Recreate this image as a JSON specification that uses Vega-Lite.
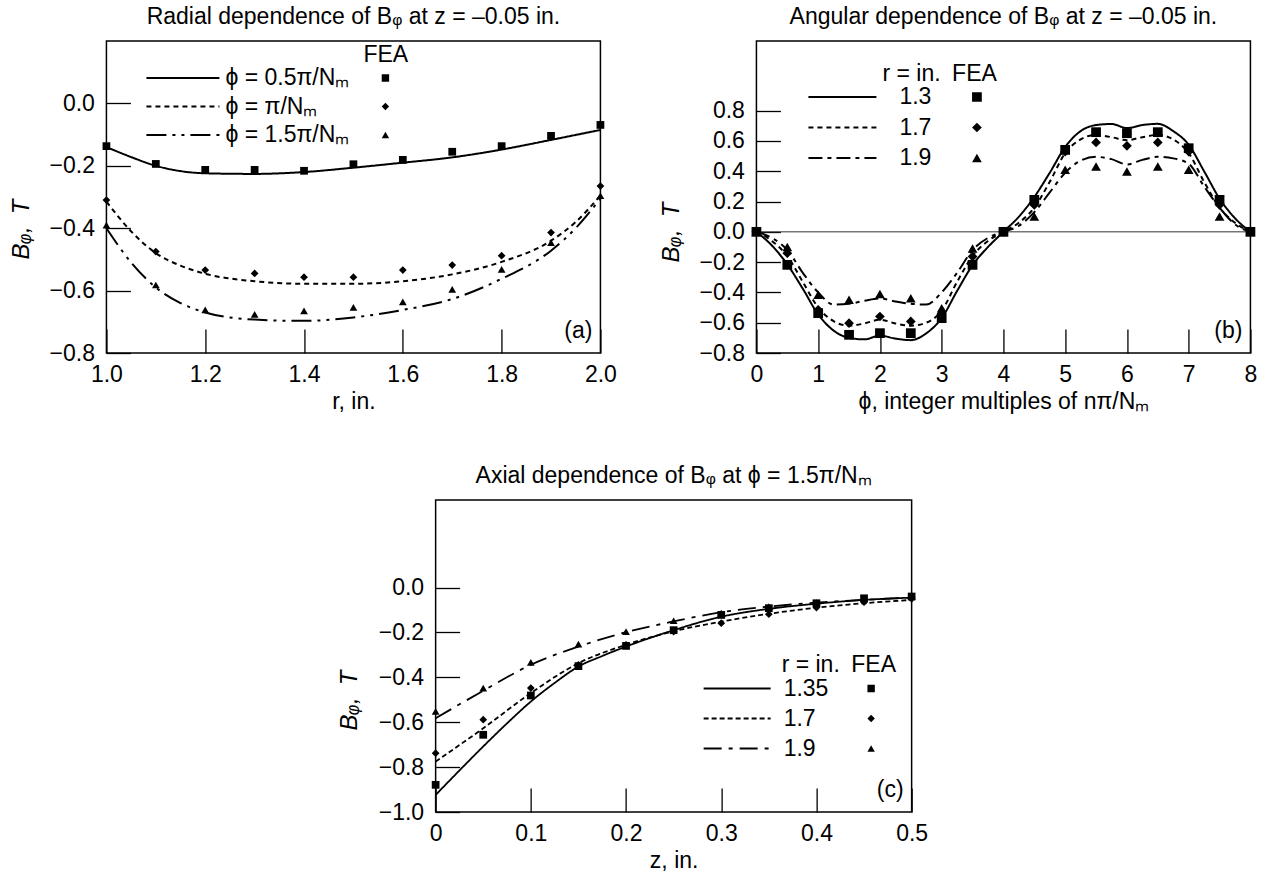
{
  "$schema": "https://vega.github.io/schema/vega-lite/v6.json",
  "background": "white",
  "padding": {"left": 8, "top": 5, "right": 5, "bottom": 5},
  "config": {
    "font": "Liberation Sans",
    "view": {"stroke": "black", "strokeWidth": 1.5},
    "axis": {
      "domain": false, "grid": false, "ticks": true, "tickSize": -24, "tickColor": "black", "tickWidth": 1.3,
      "labelColor": "black", "labelFontSize": 23, "labelFont": "Liberation Sans", "labelFlush": false, "labelOverlap": false,
      "titleColor": "black", "titleFontSize": 23, "titleFontWeight": "normal", "titleFont": "Liberation Sans"
    },
    "axisX": {"labelPadding": 34, "titleY": 55, "titleBaseline": "alphabetic"},
    "axisY": {"labelPadding": 36, "titleX": -78, "titleBaseline": "alphabetic", "titleFontStyle": "italic", "titleFontSize": 24},
    "legend": {
      "orient": "none", "padding": 0, "labelFontSize": 23, "labelFont": "Liberation Sans", "labelColor": "black",
      "titleFontSize": 23, "titleFontWeight": "normal", "titleColor": "black", "titleFont": "Liberation Sans", "titlePadding": 0
    },
    "title": {"fontSize": 23, "fontWeight": "normal", "color": "black", "font": "Liberation Sans", "offset": 12, "frame": "group"},
    "text": {"font": "Liberation Sans", "fontSize": 23, "color": "black"}
  },
  "datasets": {
    "a_lines": [
      {"x": 1.0, "y": -0.14, "curve": "ϕ = 0.5π/Nₘ"}, {"x": 1.05, "y": -0.172, "curve": "ϕ = 0.5π/Nₘ"}, {"x": 1.1, "y": -0.2, "curve": "ϕ = 0.5π/Nₘ"},
      {"x": 1.15, "y": -0.217, "curve": "ϕ = 0.5π/Nₘ"}, {"x": 1.2, "y": -0.224, "curve": "ϕ = 0.5π/Nₘ"}, {"x": 1.3, "y": -0.226, "curve": "ϕ = 0.5π/Nₘ"},
      {"x": 1.4, "y": -0.22, "curve": "ϕ = 0.5π/Nₘ"}, {"x": 1.5, "y": -0.206, "curve": "ϕ = 0.5π/Nₘ"}, {"x": 1.6, "y": -0.19, "curve": "ϕ = 0.5π/Nₘ"},
      {"x": 1.7, "y": -0.173, "curve": "ϕ = 0.5π/Nₘ"}, {"x": 1.8, "y": -0.148, "curve": "ϕ = 0.5π/Nₘ"}, {"x": 1.9, "y": -0.117, "curve": "ϕ = 0.5π/Nₘ"},
      {"x": 2.0, "y": -0.085, "curve": "ϕ = 0.5π/Nₘ"},
      {"x": 1.0, "y": -0.315, "curve": "ϕ = π/Nₘ"}, {"x": 1.05, "y": -0.41, "curve": "ϕ = π/Nₘ"}, {"x": 1.1, "y": -0.48, "curve": "ϕ = π/Nₘ"},
      {"x": 1.15, "y": -0.52, "curve": "ϕ = π/Nₘ"}, {"x": 1.2, "y": -0.546, "curve": "ϕ = π/Nₘ"}, {"x": 1.3, "y": -0.57, "curve": "ϕ = π/Nₘ"},
      {"x": 1.4, "y": -0.578, "curve": "ϕ = π/Nₘ"}, {"x": 1.5, "y": -0.578, "curve": "ϕ = π/Nₘ"}, {"x": 1.6, "y": -0.57, "curve": "ϕ = π/Nₘ"},
      {"x": 1.7, "y": -0.548, "curve": "ϕ = π/Nₘ"}, {"x": 1.8, "y": -0.508, "curve": "ϕ = π/Nₘ"}, {"x": 1.9, "y": -0.44, "curve": "ϕ = π/Nₘ"},
      {"x": 1.95, "y": -0.38, "curve": "ϕ = π/Nₘ"}, {"x": 2.0, "y": -0.295, "curve": "ϕ = π/Nₘ"},
      {"x": 1.0, "y": -0.4, "curve": "ϕ = 1.5π/Nₘ"}, {"x": 1.05, "y": -0.51, "curve": "ϕ = 1.5π/Nₘ"}, {"x": 1.1, "y": -0.59, "curve": "ϕ = 1.5π/Nₘ"},
      {"x": 1.15, "y": -0.64, "curve": "ϕ = 1.5π/Nₘ"}, {"x": 1.2, "y": -0.67, "curve": "ϕ = 1.5π/Nₘ"}, {"x": 1.3, "y": -0.693, "curve": "ϕ = 1.5π/Nₘ"},
      {"x": 1.4, "y": -0.697, "curve": "ϕ = 1.5π/Nₘ"}, {"x": 1.5, "y": -0.686, "curve": "ϕ = 1.5π/Nₘ"}, {"x": 1.6, "y": -0.662, "curve": "ϕ = 1.5π/Nₘ"},
      {"x": 1.7, "y": -0.627, "curve": "ϕ = 1.5π/Nₘ"}, {"x": 1.8, "y": -0.562, "curve": "ϕ = 1.5π/Nₘ"}, {"x": 1.9, "y": -0.472, "curve": "ϕ = 1.5π/Nₘ"},
      {"x": 1.95, "y": -0.4, "curve": "ϕ = 1.5π/Nₘ"}, {"x": 2.0, "y": -0.305, "curve": "ϕ = 1.5π/Nₘ"}
    ],
    "a_fea": [
      {"x": 1.0, "y": -0.137, "fea": "a1"}, {"x": 1.1, "y": -0.194, "fea": "a1"}, {"x": 1.2, "y": -0.213, "fea": "a1"}, {"x": 1.3, "y": -0.213, "fea": "a1"},
      {"x": 1.4, "y": -0.216, "fea": "a1"}, {"x": 1.5, "y": -0.195, "fea": "a1"}, {"x": 1.6, "y": -0.181, "fea": "a1"}, {"x": 1.7, "y": -0.155, "fea": "a1"},
      {"x": 1.8, "y": -0.137, "fea": "a1"}, {"x": 1.9, "y": -0.104, "fea": "a1"}, {"x": 2.0, "y": -0.069, "fea": "a1"},
      {"x": 1.0, "y": -0.31, "fea": "a2"}, {"x": 1.1, "y": -0.475, "fea": "a2"}, {"x": 1.2, "y": -0.534, "fea": "a2"}, {"x": 1.3, "y": -0.545, "fea": "a2"},
      {"x": 1.4, "y": -0.557, "fea": "a2"}, {"x": 1.5, "y": -0.557, "fea": "a2"}, {"x": 1.6, "y": -0.534, "fea": "a2"}, {"x": 1.7, "y": -0.518, "fea": "a2"},
      {"x": 1.8, "y": -0.488, "fea": "a2"}, {"x": 1.9, "y": -0.414, "fea": "a2"}, {"x": 2.0, "y": -0.265, "fea": "a2"},
      {"x": 1.0, "y": -0.39, "fea": "a3"}, {"x": 1.1, "y": -0.582, "fea": "a3"}, {"x": 1.2, "y": -0.662, "fea": "a3"}, {"x": 1.3, "y": -0.676, "fea": "a3"},
      {"x": 1.4, "y": -0.665, "fea": "a3"}, {"x": 1.5, "y": -0.654, "fea": "a3"}, {"x": 1.6, "y": -0.636, "fea": "a3"}, {"x": 1.7, "y": -0.596, "fea": "a3"},
      {"x": 1.8, "y": -0.532, "fea": "a3"}, {"x": 1.9, "y": -0.446, "fea": "a3"}, {"x": 2.0, "y": -0.296, "fea": "a3"}
    ],
    "a_tag": [{"x": 2.0, "y": -0.8, "tag": "(a)"}],
    "b_zero": [{"y": 0}],
    "b_tag": [{"x": 8.0, "y": -0.8, "tag": "(b)"}],
    "c_tag": [{"x": 0.5, "y": -1.0, "tag": "(c)"}],
    "b_lines": [
      {"x": 0, "y": 0, "curve": "1.3"}, {"x": 0.25, "y": -0.09, "curve": "1.3"}, {"x": 0.5, "y": -0.215, "curve": "1.3"}, {"x": 0.75, "y": -0.375, "curve": "1.3"},
      {"x": 1.0, "y": -0.545, "curve": "1.3"}, {"x": 1.25, "y": -0.652, "curve": "1.3"}, {"x": 1.5, "y": -0.7, "curve": "1.3"}, {"x": 1.75, "y": -0.71, "curve": "1.3"},
      {"x": 2.0, "y": -0.685, "curve": "1.3"}, {"x": 2.25, "y": -0.705, "curve": "1.3"}, {"x": 2.5, "y": -0.715, "curve": "1.3"}, {"x": 2.75, "y": -0.67, "curve": "1.3"},
      {"x": 3.0, "y": -0.57, "curve": "1.3"}, {"x": 3.25, "y": -0.39, "curve": "1.3"}, {"x": 3.5, "y": -0.22, "curve": "1.3"}, {"x": 3.75, "y": -0.1, "curve": "1.3"},
      {"x": 4.0, "y": 0, "curve": "1.3"}, {"x": 4.25, "y": 0.1, "curve": "1.3"}, {"x": 4.5, "y": 0.23, "curve": "1.3"}, {"x": 4.75, "y": 0.39, "curve": "1.3"},
      {"x": 5.0, "y": 0.56, "curve": "1.3"}, {"x": 5.25, "y": 0.665, "curve": "1.3"}, {"x": 5.5, "y": 0.705, "curve": "1.3"}, {"x": 5.75, "y": 0.712, "curve": "1.3"},
      {"x": 6.0, "y": 0.685, "curve": "1.3"}, {"x": 6.25, "y": 0.705, "curve": "1.3"}, {"x": 6.5, "y": 0.713, "curve": "1.3"}, {"x": 6.75, "y": 0.665, "curve": "1.3"},
      {"x": 7.0, "y": 0.575, "curve": "1.3"}, {"x": 7.25, "y": 0.4, "curve": "1.3"}, {"x": 7.5, "y": 0.22, "curve": "1.3"}, {"x": 7.75, "y": 0.09, "curve": "1.3"},
      {"x": 8.0, "y": 0, "curve": "1.3"},
      {"x": 0, "y": 0, "curve": "1.7"}, {"x": 0.25, "y": -0.06, "curve": "1.7"}, {"x": 0.5, "y": -0.16, "curve": "1.7"}, {"x": 0.75, "y": -0.33, "curve": "1.7"},
      {"x": 1.0, "y": -0.5, "curve": "1.7"}, {"x": 1.25, "y": -0.59, "curve": "1.7"}, {"x": 1.5, "y": -0.62, "curve": "1.7"}, {"x": 1.75, "y": -0.605, "curve": "1.7"},
      {"x": 2.0, "y": -0.58, "curve": "1.7"}, {"x": 2.25, "y": -0.605, "curve": "1.7"}, {"x": 2.5, "y": -0.62, "curve": "1.7"}, {"x": 2.75, "y": -0.6, "curve": "1.7"},
      {"x": 3.0, "y": -0.52, "curve": "1.7"}, {"x": 3.25, "y": -0.33, "curve": "1.7"}, {"x": 3.5, "y": -0.16, "curve": "1.7"}, {"x": 3.75, "y": -0.06, "curve": "1.7"},
      {"x": 4.0, "y": 0, "curve": "1.7"}, {"x": 4.25, "y": 0.06, "curve": "1.7"}, {"x": 4.5, "y": 0.16, "curve": "1.7"}, {"x": 4.75, "y": 0.33, "curve": "1.7"},
      {"x": 5.0, "y": 0.52, "curve": "1.7"}, {"x": 5.25, "y": 0.61, "curve": "1.7"}, {"x": 5.5, "y": 0.64, "curve": "1.7"}, {"x": 5.75, "y": 0.625, "curve": "1.7"},
      {"x": 6.0, "y": 0.605, "curve": "1.7"}, {"x": 6.25, "y": 0.625, "curve": "1.7"}, {"x": 6.5, "y": 0.64, "curve": "1.7"}, {"x": 6.75, "y": 0.61, "curve": "1.7"},
      {"x": 7.0, "y": 0.52, "curve": "1.7"}, {"x": 7.25, "y": 0.33, "curve": "1.7"}, {"x": 7.5, "y": 0.16, "curve": "1.7"}, {"x": 7.75, "y": 0.06, "curve": "1.7"},
      {"x": 8.0, "y": 0, "curve": "1.7"},
      {"x": 0, "y": 0, "curve": "1.9"}, {"x": 0.25, "y": -0.04, "curve": "1.9"}, {"x": 0.5, "y": -0.12, "curve": "1.9"}, {"x": 0.75, "y": -0.27, "curve": "1.9"},
      {"x": 1.0, "y": -0.4, "curve": "1.9"}, {"x": 1.25, "y": -0.48, "curve": "1.9"}, {"x": 1.5, "y": -0.475, "curve": "1.9"}, {"x": 1.75, "y": -0.455, "curve": "1.9"},
      {"x": 2.0, "y": -0.44, "curve": "1.9"}, {"x": 2.25, "y": -0.46, "curve": "1.9"}, {"x": 2.5, "y": -0.475, "curve": "1.9"}, {"x": 2.75, "y": -0.48, "curve": "1.9"},
      {"x": 3.0, "y": -0.4, "curve": "1.9"}, {"x": 3.25, "y": -0.27, "curve": "1.9"}, {"x": 3.5, "y": -0.12, "curve": "1.9"}, {"x": 3.75, "y": -0.04, "curve": "1.9"},
      {"x": 4.0, "y": 0, "curve": "1.9"}, {"x": 4.25, "y": 0.04, "curve": "1.9"}, {"x": 4.5, "y": 0.13, "curve": "1.9"}, {"x": 4.75, "y": 0.26, "curve": "1.9"},
      {"x": 5.0, "y": 0.39, "curve": "1.9"}, {"x": 5.25, "y": 0.47, "curve": "1.9"}, {"x": 5.5, "y": 0.495, "curve": "1.9"}, {"x": 5.75, "y": 0.48, "curve": "1.9"},
      {"x": 6.0, "y": 0.445, "curve": "1.9"}, {"x": 6.25, "y": 0.475, "curve": "1.9"}, {"x": 6.5, "y": 0.495, "curve": "1.9"}, {"x": 6.75, "y": 0.485, "curve": "1.9"},
      {"x": 7.0, "y": 0.45, "curve": "1.9"}, {"x": 7.25, "y": 0.3, "curve": "1.9"}, {"x": 7.5, "y": 0.16, "curve": "1.9"}, {"x": 7.75, "y": 0.05, "curve": "1.9"},
      {"x": 8.0, "y": 0, "curve": "1.9"}
    ],
    "b_fea": [
      {"x": 0, "y": 0, "fea": "b1"}, {"x": 0.5, "y": -0.218, "fea": "b1"}, {"x": 1.0, "y": -0.537, "fea": "b1"}, {"x": 1.5, "y": -0.68, "fea": "b1"},
      {"x": 2.0, "y": -0.669, "fea": "b1"}, {"x": 2.5, "y": -0.669, "fea": "b1"}, {"x": 3.0, "y": -0.57, "fea": "b1"}, {"x": 3.5, "y": -0.218, "fea": "b1"},
      {"x": 4.0, "y": 0, "fea": "b1"}, {"x": 4.5, "y": 0.211, "fea": "b1"}, {"x": 5.0, "y": 0.541, "fea": "b1"}, {"x": 5.5, "y": 0.658, "fea": "b1"},
      {"x": 6.0, "y": 0.651, "fea": "b1"}, {"x": 6.5, "y": 0.658, "fea": "b1"}, {"x": 7.0, "y": 0.552, "fea": "b1"}, {"x": 7.5, "y": 0.211, "fea": "b1"},
      {"x": 8.0, "y": 0, "fea": "b1"},
      {"x": 0, "y": 0, "fea": "b2"}, {"x": 0.5, "y": -0.141, "fea": "b2"}, {"x": 1.0, "y": -0.515, "fea": "b2"}, {"x": 1.5, "y": -0.603, "fea": "b2"},
      {"x": 2.0, "y": -0.559, "fea": "b2"}, {"x": 2.5, "y": -0.592, "fea": "b2"}, {"x": 3.0, "y": -0.54, "fea": "b2"}, {"x": 3.5, "y": -0.163, "fea": "b2"},
      {"x": 4.0, "y": 0, "fea": "b2"}, {"x": 4.5, "y": 0.178, "fea": "b2"}, {"x": 5.0, "y": 0.53, "fea": "b2"}, {"x": 5.5, "y": 0.59, "fea": "b2"},
      {"x": 6.0, "y": 0.568, "fea": "b2"}, {"x": 6.5, "y": 0.59, "fea": "b2"}, {"x": 7.0, "y": 0.53, "fea": "b2"}, {"x": 7.5, "y": 0.178, "fea": "b2"},
      {"x": 8.0, "y": 0, "fea": "b2"},
      {"x": 0, "y": 0, "fea": "b3"}, {"x": 0.5, "y": -0.1, "fea": "b3"}, {"x": 1.0, "y": -0.416, "fea": "b3"}, {"x": 1.5, "y": -0.449, "fea": "b3"},
      {"x": 2.0, "y": -0.411, "fea": "b3"}, {"x": 2.5, "y": -0.438, "fea": "b3"}, {"x": 3.0, "y": -0.504, "fea": "b3"}, {"x": 3.5, "y": -0.11, "fea": "b3"},
      {"x": 4.0, "y": 0, "fea": "b3"}, {"x": 4.5, "y": 0.101, "fea": "b3"}, {"x": 5.0, "y": 0.41, "fea": "b3"}, {"x": 5.5, "y": 0.431, "fea": "b3"},
      {"x": 6.0, "y": 0.398, "fea": "b3"}, {"x": 6.5, "y": 0.431, "fea": "b3"}, {"x": 7.0, "y": 0.41, "fea": "b3"}, {"x": 7.5, "y": 0.101, "fea": "b3"},
      {"x": 8.0, "y": 0, "fea": "b3"}
    ],
    "c_lines": [
      {"x": 0, "y": -0.924, "curve": "1.35"}, {"x": 0.025, "y": -0.815, "curve": "1.35"}, {"x": 0.05, "y": -0.708, "curve": "1.35"}, {"x": 0.075, "y": -0.605, "curve": "1.35"},
      {"x": 0.1, "y": -0.508, "curve": "1.35"}, {"x": 0.125, "y": -0.425, "curve": "1.35"}, {"x": 0.15, "y": -0.352, "curve": "1.35"}, {"x": 0.175, "y": -0.305, "curve": "1.35"},
      {"x": 0.2, "y": -0.263, "curve": "1.35"}, {"x": 0.25, "y": -0.19, "curve": "1.35"}, {"x": 0.3, "y": -0.13, "curve": "1.35"}, {"x": 0.35, "y": -0.095, "curve": "1.35"},
      {"x": 0.4, "y": -0.072, "curve": "1.35"}, {"x": 0.45, "y": -0.055, "curve": "1.35"}, {"x": 0.5, "y": -0.045, "curve": "1.35"},
      {"x": 0, "y": -0.775, "curve": "1.7 "}, {"x": 0.05, "y": -0.627, "curve": "1.7 "}, {"x": 0.1, "y": -0.47, "curve": "1.7 "}, {"x": 0.15, "y": -0.337, "curve": "1.7 "},
      {"x": 0.2, "y": -0.255, "curve": "1.7 "}, {"x": 0.25, "y": -0.195, "curve": "1.7 "}, {"x": 0.3, "y": -0.152, "curve": "1.7 "}, {"x": 0.35, "y": -0.117, "curve": "1.7 "},
      {"x": 0.4, "y": -0.09, "curve": "1.7 "}, {"x": 0.45, "y": -0.07, "curve": "1.7 "}, {"x": 0.5, "y": -0.055, "curve": "1.7 "},
      {"x": 0, "y": -0.582, "curve": "1.9 "}, {"x": 0.05, "y": -0.46, "curve": "1.9 "}, {"x": 0.1, "y": -0.344, "curve": "1.9 "}, {"x": 0.15, "y": -0.263, "curve": "1.9 "},
      {"x": 0.2, "y": -0.199, "curve": "1.9 "}, {"x": 0.25, "y": -0.151, "curve": "1.9 "}, {"x": 0.3, "y": -0.11, "curve": "1.9 "}, {"x": 0.35, "y": -0.085, "curve": "1.9 "},
      {"x": 0.4, "y": -0.067, "curve": "1.9 "}, {"x": 0.45, "y": -0.055, "curve": "1.9 "}, {"x": 0.5, "y": -0.045, "curve": "1.9 "}
    ],
    "c_fea": [
      {"x": 0, "y": -0.879, "fea": "c1"}, {"x": 0.05, "y": -0.656, "fea": "c1"}, {"x": 0.1, "y": -0.481, "fea": "c1"}, {"x": 0.15, "y": -0.35, "fea": "c1"},
      {"x": 0.2, "y": -0.26, "fea": "c1"}, {"x": 0.25, "y": -0.19, "fea": "c1"}, {"x": 0.3, "y": -0.122, "fea": "c1"}, {"x": 0.35, "y": -0.092, "fea": "c1"},
      {"x": 0.4, "y": -0.07, "fea": "c1"}, {"x": 0.45, "y": -0.048, "fea": "c1"}, {"x": 0.5, "y": -0.04, "fea": "c1"},
      {"x": 0, "y": -0.738, "fea": "c2"}, {"x": 0.05, "y": -0.589, "fea": "c2"}, {"x": 0.1, "y": -0.448, "fea": "c2"}, {"x": 0.15, "y": -0.344, "fea": "c2"},
      {"x": 0.2, "y": -0.255, "fea": "c2"}, {"x": 0.25, "y": -0.196, "fea": "c2"}, {"x": 0.3, "y": -0.159, "fea": "c2"}, {"x": 0.35, "y": -0.119, "fea": "c2"},
      {"x": 0.4, "y": -0.089, "fea": "c2"}, {"x": 0.45, "y": -0.065, "fea": "c2"}, {"x": 0.5, "y": -0.05, "fea": "c2"},
      {"x": 0, "y": -0.552, "fea": "c3"}, {"x": 0.05, "y": -0.448, "fea": "c3"}, {"x": 0.1, "y": -0.333, "fea": "c3"}, {"x": 0.15, "y": -0.252, "fea": "c3"},
      {"x": 0.2, "y": -0.196, "fea": "c3"}, {"x": 0.25, "y": -0.148, "fea": "c3"}, {"x": 0.3, "y": -0.114, "fea": "c3"}, {"x": 0.35, "y": -0.085, "fea": "c3"},
      {"x": 0.4, "y": -0.067, "fea": "c3"}, {"x": 0.45, "y": -0.05, "fea": "c3"}, {"x": 0.5, "y": -0.04, "fea": "c3"}
    ]
  },
  "vconcat": [
    {
      "hconcat": [
        {
          "width": 494, "height": 312,
          "title": {"text": "Radial dependence of Bᵩ at z = –0.05 in."},
          "layer": [
            {
              "data": {"name": "a_lines"},
              "mark": {"type": "line", "color": "black", "strokeWidth": 2, "interpolate": "monotone"},
              "encoding": {
                "x": {"field": "x", "type": "quantitative", "scale": {"domain": [1, 2], "nice": false, "zero": false},
                      "axis": {"title": "r, in.", "values": [1, 1.2, 1.4, 1.6, 1.8, 2], "format": ".1f", "labelOverlap": false}},
                "y": {"field": "y", "type": "quantitative", "scale": {"domain": [-0.8, 0.2], "nice": false, "zero": false},
                      "axis": {"title": "Bᵩ,\u2002T", "values": [-0.8, -0.6, -0.4, -0.2, 0], "format": ".1f", "titleY": 188, "labelOverlap": false}},
                "strokeDash": {"field": "curve", "type": "nominal",
                  "scale": {"domain": ["ϕ = 0.5π/Nₘ", "ϕ = π/Nₘ", "ϕ = 1.5π/Nₘ"], "range": [[1, 0], [5, 4], [20, 6, 3, 6, 3, 6]]},
                  "legend": {"title": null, "legendX": 39, "legendY": 25.5, "symbolType": "stroke", "symbolSize": 5329,
                             "symbolStrokeWidth": 2, "symbolStrokeColor": "black", "labelOffset": 5, "rowPadding": 4.5, "clipHeight": 23}}
              }
            },
            {
              "data": {"name": "a_fea"},
              "mark": {"type": "point", "filled": true, "color": "black", "opacity": 1, "size": 60},
              "encoding": {
                "x": {"field": "x", "type": "quantitative", "title": "r, in."},
                "y": {"field": "y", "type": "quantitative", "title": "Bᵩ,\u2002T"},
                "shape": {"field": "fea", "type": "nominal",
                  "scale": {"domain": ["a1", "a2", "a3"], "range": ["square", "diamond", "triangle-up"]},
                  "legend": {"title": "FEA", "legendX": 257, "legendY": 2.5, "symbolOffset": 10.5, "symbolSize": 55,
                             "symbolFillColor": "black", "symbolStrokeWidth": 0, "labelExpr": "''", "rowPadding": 4.5, "clipHeight": 23}}
              }
            },
            {
              "data": {"name": "a_tag"},
              "mark": {"type": "text", "align": "right", "baseline": "alphabetic", "dx": -8, "dy": -15, "fontSize": 23, "color": "black"},
              "encoding": {"x": {"field": "x", "type": "quantitative"}, "y": {"field": "y", "type": "quantitative"}, "text": {"field": "tag"}}
            }
          ]
        },
        {
          "width": 494, "height": 312,
          "title": {"text": "Angular dependence of Bᵩ at z = –0.05 in."},
          "layer": [
            {
              "data": {"name": "b_zero"},
              "mark": {"type": "rule", "color": "#333333", "strokeWidth": 1},
              "encoding": {"y": {"field": "y", "type": "quantitative"}}
            },
            {
              "data": {"name": "b_lines"},
              "mark": {"type": "line", "color": "black", "strokeWidth": 2, "interpolate": "monotone"},
              "encoding": {
                "x": {"field": "x", "type": "quantitative", "scale": {"domain": [0, 8], "nice": false},
                      "axis": {"title": "ϕ, integer multiples of nπ/Nₘ", "values": [0, 1, 2, 3, 4, 5, 6, 7, 8], "format": "d", "labelOverlap": false}},
                "y": {"field": "y", "type": "quantitative", "scale": {"domain": [-0.8, 1.26], "nice": false, "zero": false},
                      "axis": {"title": "Bᵩ,\u2002T", "values": [-0.8, -0.6, -0.4, -0.2, 0, 0.2, 0.4, 0.6, 0.8], "format": ".1f", "titleY": 191,
                               "labelOverlap": false, "tickCount": 9}},
                "strokeDash": {"field": "curve", "type": "nominal",
                  "scale": {"domain": ["1.3", "1.7", "1.9"], "range": [[1, 0], [5, 4], [14, 5, 4, 5]]},
                  "legend": {"title": null, "legendX": 51, "legendY": 44.5, "symbolType": "stroke", "symbolSize": 4624,
                             "symbolStrokeWidth": 2, "symbolStrokeColor": "black", "labelOffset": 22, "rowPadding": 6.5, "clipHeight": 23}}
              }
            },
            {
              "data": {"name": "b_fea"},
              "mark": {"type": "point", "filled": true, "color": "black", "opacity": 1, "size": 95},
              "encoding": {
                "x": {"field": "x", "type": "quantitative", "title": "ϕ, integer multiples of nπ/Nₘ"},
                "y": {"field": "y", "type": "quantitative", "title": "Bᵩ,\u2002T"},
                "shape": {"field": "fea", "type": "nominal",
                  "scale": {"domain": ["b1", "b2", "b3"], "range": ["square", "diamond", "triangle-up"]},
                  "legend": {"title": "r = in.\u2002FEA", "legendX": 126, "legendY": 21.5, "symbolOffset": 83, "symbolSize": 95,
                             "symbolFillColor": "black", "symbolStrokeWidth": 0, "labelExpr": "''", "rowPadding": 6.5, "clipHeight": 23}}
              }
            },
            {
              "data": {"name": "b_tag"},
              "mark": {"type": "text", "align": "right", "baseline": "alphabetic", "dx": -8, "dy": -15, "fontSize": 23, "color": "black"},
              "encoding": {"x": {"field": "x", "type": "quantitative"}, "y": {"field": "y", "type": "quantitative"}, "text": {"field": "tag"}}
            }
          ]
        }
      ],
      "spacing": 156,
      "bounds": "flush",
      "resolve": {
        "scale": {"x": "independent", "y": "independent", "shape": "independent", "strokeDash": "independent"},
        "legend": {"shape": "independent", "strokeDash": "independent"}
      }
    },
    {
      "width": 476, "height": 312,
      "title": {"text": "Axial dependence of Bᵩ at ϕ = 1.5π/Nₘ"},
      "layer": [
        {
          "data": {"name": "c_lines"},
          "mark": {"type": "line", "color": "black", "strokeWidth": 1.8, "interpolate": "monotone"},
          "encoding": {
            "x": {"field": "x", "type": "quantitative", "scale": {"domain": [0, 0.5], "nice": false},
                  "axis": {"title": "z, in.", "values": [0, 0.1, 0.2, 0.3, 0.4, 0.5], "format": "~g", "labelOverlap": false}},
            "y": {"field": "y", "type": "quantitative", "scale": {"domain": [-1, 0.39], "nice": false, "zero": false},
                  "axis": {"title": "Bᵩ,\u2002T", "values": [-1, -0.8, -0.6, -0.4, -0.2, 0], "format": ".1f", "titleY": 200, "titleX": -79, "labelOverlap": false}},
            "strokeDash": {"field": "curve", "type": "nominal",
              "scale": {"domain": ["1.35", "1.7 ", "1.9 "], "range": [[1, 0], [5, 3], [18, 7, 4, 7]]},
              "legend": {"title": null, "legendX": 267, "legendY": 177, "symbolType": "stroke", "symbolSize": 4489,
                         "symbolStrokeWidth": 1.8, "symbolStrokeColor": "black", "labelOffset": 12, "rowPadding": 6, "clipHeight": 23}}
          }
        },
        {
          "data": {"name": "c_fea"},
          "mark": {"type": "point", "filled": true, "color": "black", "opacity": 1, "size": 60},
          "encoding": {
            "x": {"field": "x", "type": "quantitative", "title": "z, in."},
            "y": {"field": "y", "type": "quantitative", "title": "Bᵩ,\u2002T"},
            "shape": {"field": "fea", "type": "nominal",
              "scale": {"domain": ["c1", "c2", "c3"], "range": ["square", "diamond", "triangle-up"]},
              "legend": {"title": "r = in.\u2002FEA", "legendX": 346, "legendY": 154, "symbolOffset": 78, "symbolSize": 55,
                         "symbolFillColor": "black", "symbolStrokeWidth": 0, "labelExpr": "''", "rowPadding": 6, "clipHeight": 23}}
          }
        },
        {
          "data": {"name": "c_tag"},
          "mark": {"type": "text", "align": "right", "baseline": "alphabetic", "dx": -8, "dy": -15, "fontSize": 23, "color": "black"},
          "encoding": {"x": {"field": "x", "type": "quantitative"}, "y": {"field": "y", "type": "quantitative"}, "text": {"field": "tag"}}
        }
      ]
    }
  ],
  "spacing": 50,
  "center": true,
  "resolve": {
    "scale": {"x": "independent", "y": "independent", "shape": "independent", "strokeDash": "independent"},
    "legend": {"shape": "independent", "strokeDash": "independent"}
  }
}
